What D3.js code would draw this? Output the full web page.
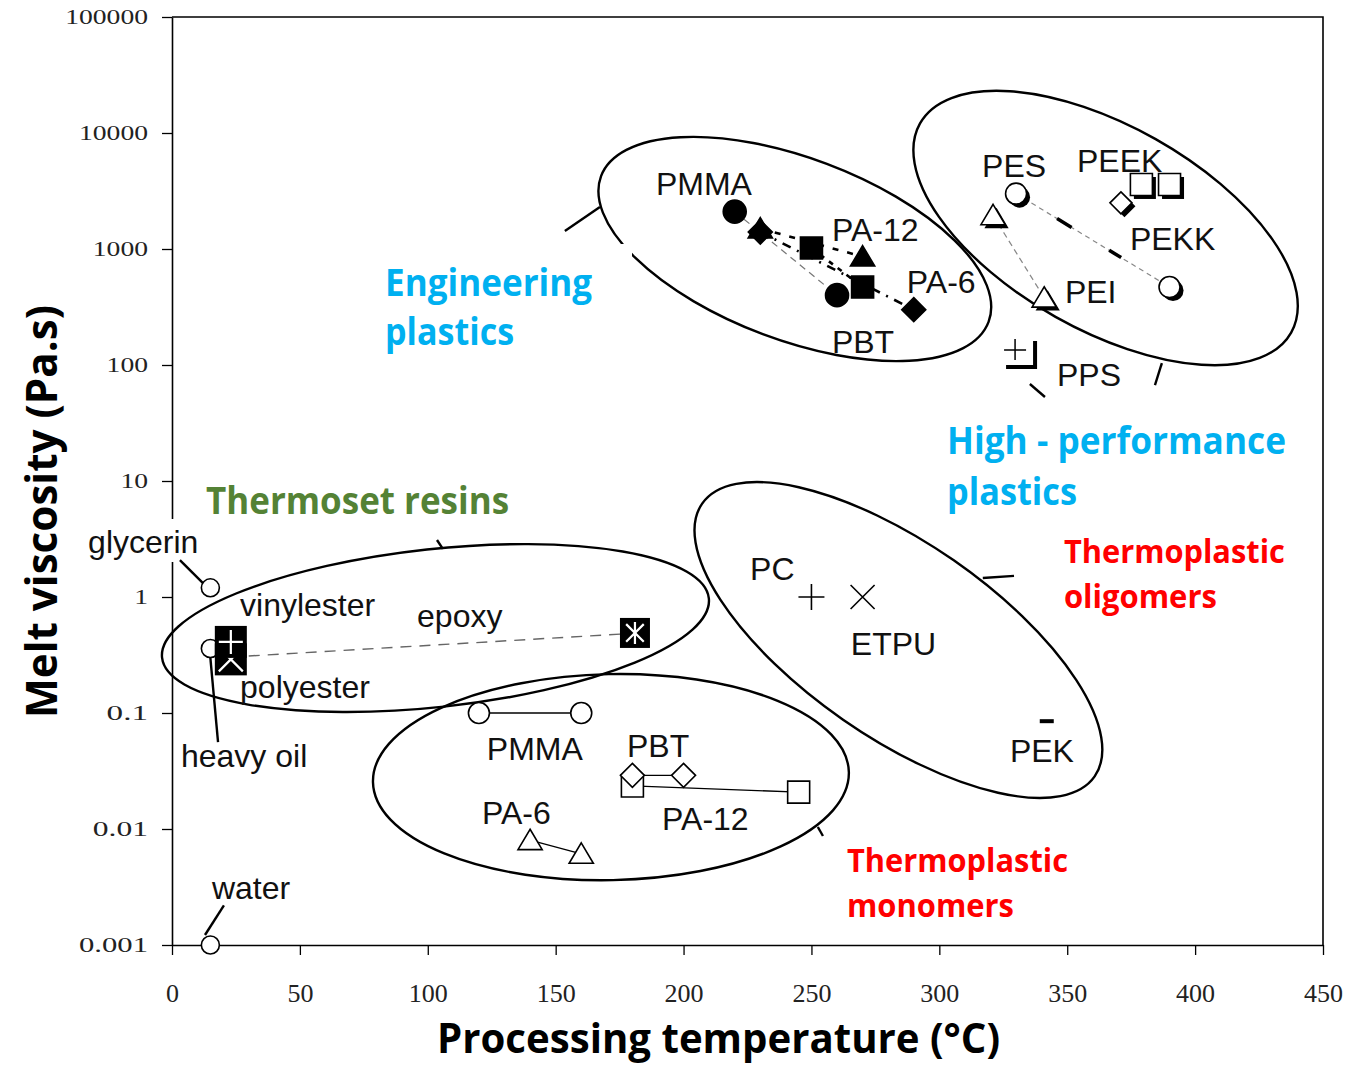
<!DOCTYPE html>
<html>
<head>
<meta charset="utf-8">
<script src="https://cdn.jsdelivr.net/npm/d3@7"></script>
<style>
body { margin: 0; background: #fff; }
</style>
</head>
<body>
<div id="chart"></div>
<script>
// ---- values read off the figure : [processing temperature (°C), melt viscosity (Pa.s)]
// engineering plastics (filled markers)
const engCircle   = [[220, 2100], [260, 400]];
const engTriangle = [[230, 1500], [270, 860]];
const engDiamond  = [[230, 1400], [290, 300]];
const engSquare   = [[250, 1020], [270, 470]];
// high-performance plastics (open markers with shadow)
const hpCircle   = [[330, 3000], [390, 470]];
const hpTriangle = [[321, 1950], [341, 380]];
const hpDiamond  = [[371, 2500]];
const hpSquare   = [[379, 3600], [390, 3600]];
const hpPlus     = [[330, 135]];
// thermoset resins and reference liquids
const liquids    = [[15, 1.2], [15, 0.36], [15, 0.001]];   // glycerin, heavy oil, water
const vinylester = [[23, 0.41]];
const polyester  = [[23, 0.29]];
const epoxy      = [[181, 0.49]];
const epoxyLine  = [[30, 0.31], [176, 0.48]];
// thermoplastic monomers (open markers)
const monCircle   = [[120, 0.1], [160, 0.1]];
const monDiamond  = [[180, 0.029], [200, 0.029]];
const monSquare   = [[180, 0.0235], [245, 0.0208]];
const monTriangle = [[140, 0.008], [160, 0.0061]];
// thermoplastic oligomers
const oliPlus  = [[250, 1]];
const oliCross = [[270, 1]];
const oliMinus = [[342, 0.085]];

// axis ticks
const xTicks = [0, 50, 100, 150, 200, 250, 300, 350, 400, 450];
const yTicks = [0.001, 0.01, 0.1, 1, 10, 100, 1000, 10000, 100000];
const yTickLabels = ['0.001', '0.01', '0.1', '1', '10', '100', '1000', '10000', '100000'];

// ---- annotations (anchored in data units)
const groupEllipses = [
  {T: 243.5, v: 1000,  a: 207, b: 91,  rot: 20.6},   // engineering
  {T: 365,   v: 1517,  a: 213, b: 102, rot: 29.4},   // high performance
  {T: 103,   v: 0.54,  a: 275, b: 79,  rot: -6.2},   // thermosets
  {T: 284,   v: 0.426, a: 239, b: 97,  rot: 34.8},   // oligomers
  {T: 171.6, v: 0.028, a: 238, b: 103, rot: -1.2}    // monomers
];
const leaderLines = [
  [[153.6, 1430], [167.3, 2300]],
  [[384.3, 67], [387.0, 104]],
  [[335.4, 68.6], [341.3, 53]],
  [[317, 1.46], [329.2, 1.52]],
  [[103.6, 3.1], [105.9, 2.6]],
  [[252.5, 0.0104], [254.5, 0.0087]],
  [[3.1, 2.08], [12.5, 1.29]],
  [[14.9, 0.316], [18, 0.056]],
  [[20.3, 0.0022], [12.9, 0.00122]]
];
const pointLabels = [
  ['PMMA', 189.2, 2925], ['PA-12', 258, 1172], ['PA-6', 287.3, 418], ['PBT', 258, 127],
  ['PES', 316.7, 4180], ['PEEK', 353.8, 4610], ['PEKK', 374.5, 979], ['PEI', 349.1, 342],
  ['PPS', 346, 65.9],
  ['glycerin', -32.8, 2.39], ['vinylester', 26.6, 0.685], ['epoxy', 95.8, 0.551],
  ['polyester', 26.6, 0.1346], ['heavy oil', 3.5, 0.0342], ['water', 15.6, 0.00249],
  ['PMMA', 123.1, 0.0394], ['PBT', 177.9, 0.0418], ['PA-6', 121.2, 0.01104], ['PA-12', 191.6, 0.0098],
  ['PC', 226, 1.40], ['ETPU', 265.4, 0.316], ['PEK', 327.6, 0.0379]
];
const groupLabels = [
  ['Engineering', 83.3, 393, '#00B0F0', 37, 207],
  ['plastics', 83.3, 149, '#00B0F0', 37, 129],
  ['High - performance', 303, 17.1, '#00B0F0', 37, 339],
  ['plastics', 303, 6.2, '#00B0F0', 37, 130],
  ['Thermoset resins', 13.3, 5.2, '#548235', 37, 303],
  ['Thermoplastic', 348.7, 1.96, '#FF0000', 32, 221],
  ['oligomers', 348.7, 0.80, '#FF0000', 32, 153],
  ['Thermoplastic', 263.9, 0.00426, '#FF0000', 32, 221],
  ['monomers', 263.9, 0.00174, '#FF0000', 32, 167]
];

const width = 1353, height = 1067;

const svg = d3.select('#chart')
              .append('svg')
              .attr('width', width)
              .attr('height', height);

const x = d3.scaleLinear().domain([0, 450]).range([172, 1323]);
const y = d3.scaleLog().domain([0.001, 100000]).range([945, 17]);

// axes
const xAxis = d3.axisBottom(x).tickValues(xTicks).tickSize(10).tickSizeOuter(0).tickPadding(29);
const yAxis = d3.axisLeft(y).tickValues(yTicks).tickSize(10).tickSizeOuter(0).tickPadding(14)
                .tickFormat((d, i) => yTickLabels[i]);

const xg = svg.append('g').attr('transform', 'translate(0,945)').call(xAxis);
const yg = svg.append('g').attr('transform', 'translate(172,0)').call(yAxis);

[xg, yg].forEach(g => {
  g.select('.domain').attr('stroke', '#000').attr('stroke-width', 1.6);
  g.selectAll('.tick line').attr('stroke', '#000').attr('stroke-width', 1.3);
});
xg.selectAll('.tick text')
  .style('font-family', '"Liberation Serif", serif')
  .style('font-size', '26px')
  .attr('fill', '#222');
yg.selectAll('.tick text')
  .style('font-family', '"Liberation Serif", serif')
  .style('font-size', '21px')
  .attr('fill', '#222')
  .attr('textLength', (d, i) => yTickLabels[i].length * 13.8)
  .attr('lengthAdjust', 'spacingAndGlyphs');

// frame top + right
svg.append('path')
   .attr('d', `M${x(0)},${y(100000)}H${x(450)}V${y(0.001)}`)
   .attr('fill', 'none').attr('stroke', '#000').attr('stroke-width', 1.6);

// axis titles
svg.append('text')
   .attr('x', 437).attr('y', 1053)
   .attr('textLength', 563).attr('lengthAdjust', 'spacingAndGlyphs')
   .style('font-family', '"Open Sans", sans-serif').style('font-weight', 700)
   .style('font-size', '41px')
   .text('Processing temperature (°C)');

svg.append('text')
   .attr('transform', 'translate(57,718) rotate(-90)')
   .attr('textLength', 413).attr('lengthAdjust', 'spacingAndGlyphs')
   .style('font-family', '"Open Sans", sans-serif').style('font-weight', 700)
   .style('font-size', '43px')
   .text('Melt viscosity (Pa.s)');

// group ellipses
svg.selectAll('.grp')
   .data(groupEllipses)
   .enter()
   .append('ellipse')
   .attr('class', 'grp')
   .attr('transform', d => `translate(${x(d.T)},${y(d.v)}) rotate(${d.rot})`)
   .attr('rx', d => d.a)
   .attr('ry', d => d.b)
   .attr('fill', 'none')
   .attr('stroke', '#000')
   .attr('stroke-width', 2.4);

// white text boxes that hide parts of the lines behind them
svg.append('rect').attr('x', 380).attr('y', 244).attr('width', 252).attr('height', 110).attr('fill', '#fff');
svg.append('rect').attr('x', 86).attr('y', 519).attr('width', 120).attr('height', 43).attr('fill', '#fff');

// leader lines
svg.selectAll('.leader')
   .data(leaderLines)
   .enter()
   .append('line')
   .attr('class', 'leader')
   .attr('x1', d => x(d[0][0])).attr('y1', d => y(d[0][1]))
   .attr('x2', d => x(d[1][0])).attr('y2', d => y(d[1][1]))
   .attr('stroke', '#000').attr('stroke-width', 2.4);

// connecting lines
const line = d3.line().x(d => x(d[0])).y(d => y(d[1]));
function link(data, color, w, dash) {
  svg.append('path')
     .attr('d', line(data))
     .attr('fill', 'none')
     .attr('stroke', color)
     .attr('stroke-width', w)
     .attr('stroke-dasharray', dash);
}
link(engCircle, '#777', 1.2, '7 5');
link(engTriangle, '#000', 2.6, '6 9');
link(engSquare, '#000', 2.6, '5 6');
link(engDiamond, '#000', 2.6, '9 7 2 7');
link(hpCircle, '#888', 1.2, '5 4');
link(hpCircle, '#000', 3.5, '0 48 17 44 14 400');
link(hpTriangle, '#888', 1.2, '6 4');
link(epoxyLine, '#666', 1.4, '11 8');
link(monCircle, '#000', 1.3, null);
link(monDiamond, '#000', 1.3, null);
link(monSquare, '#000', 1.3, null);
link(monTriangle, '#000', 1.3, null);

// marker shapes
function shapePath(kind, s) {
  if (kind === 'square') return `M${-s},${-s}H${s}V${s}H${-s}Z`;
  if (kind === 'diamond') return `M0,${-s}L${s},0L0,${s}L${-s},0Z`;
  if (kind === 'triangle') return `M0,${-s}L${s * 1.1},${s * 0.85}L${-s * 1.1},${s * 0.85}Z`;
  return null;
}
function markers(data, kind, s, style) {
  const g = svg.append('g');
  data.forEach(d => {
    const cx = x(d[0]), cy = y(d[1]);
    const layers = style === 'shadow' ? [['#000', 'none', 3.5], ['#fff', '#000', 0]] : [[style === 'filled' ? '#000' : '#fff', '#000', 0]];
    layers.forEach(([fill, stroke, off]) => {
      const el = kind === 'circle'
        ? g.append('circle').attr('cx', cx + off).attr('cy', cy + off).attr('r', s)
        : g.append('path').attr('transform', `translate(${cx + off},${cy + off})`).attr('d', shapePath(kind, s));
      el.attr('fill', fill).attr('stroke', off ? 'none' : stroke).attr('stroke-width', 1.6);
    });
  });
}

markers(engCircle, 'circle', 11.5, 'filled');
markers(engSquare, 'square', 11, 'filled');
markers(engTriangle, 'triangle', 11, 'filled');
markers(engDiamond, 'diamond', 12, 'filled');

markers(hpCircle, 'circle', 10.5, 'shadow');
markers(hpSquare, 'square', 11, 'shadow');
markers(hpTriangle, 'triangle', 11, 'shadow');
markers(hpDiamond, 'diamond', 11, 'shadow');

markers(liquids, 'circle', 9, 'open');

markers(monCircle, 'circle', 10.5, 'open');
markers(monSquare, 'square', 11, 'open');
markers(monDiamond, 'diamond', 12, 'open');
markers(monTriangle, 'triangle', 11, 'open');

// plus / cross / minus markers
hpPlus.forEach(d => {
  const cx = x(d[0]), cy = y(d[1]);
  svg.append('path').attr('d', `M${cx - 12},${cy}H${cx + 10}M${cx - 1},${cy - 11}V${cy + 10}`)
     .attr('stroke', '#000').attr('stroke-width', 1.5).attr('fill', 'none');
  svg.append('path').attr('d', `M${cx + 19},${cy - 9}V${cy + 17}H${cx - 10}`)
     .attr('stroke', '#000').attr('stroke-width', 4).attr('fill', 'none');
});
oliPlus.forEach(d => {
  const cx = x(d[0]), cy = y(d[1]);
  svg.append('path').attr('d', `M${cx - 13},${cy}H${cx + 13}M${cx},${cy - 13}V${cy + 13}`)
     .attr('stroke', '#000').attr('stroke-width', 1.6).attr('fill', 'none');
});
oliCross.forEach(d => {
  const cx = x(d[0]), cy = y(d[1]);
  svg.append('path').attr('d', `M${cx - 12},${cy - 12}L${cx + 12},${cy + 12}M${cx - 12},${cy + 12}L${cx + 12},${cy - 12}`)
     .attr('stroke', '#000').attr('stroke-width', 1.6).attr('fill', 'none');
});
oliMinus.forEach(d => {
  const cx = x(d[0]), cy = y(d[1]);
  svg.append('path').attr('d', `M${cx - 7},${cy}H${cx + 7}`)
     .attr('stroke', '#000').attr('stroke-width', 4);
});

// black thermoset squares with white symbols
function blackBox(d, s, symbol) {
  const cx = x(d[0]), cy = y(d[1]);
  svg.append('rect').attr('x', cx - s).attr('y', cy - s).attr('width', 2 * s).attr('height', 2 * s).attr('fill', '#000');
  svg.append('path').attr('d', symbol(cx, cy, s - 4))
     .attr('stroke', '#fff').attr('stroke-width', 2.2).attr('fill', 'none');
}
const xSym = (cx, cy, r) => `M${cx - r},${cy - r}L${cx + r},${cy + r}M${cx - r},${cy + r}L${cx + r},${cy - r}`;
const plusSym = (cx, cy, r) => `M${cx - r},${cy}H${cx + r}M${cx},${cy - r}V${cy + r}`;
const starSym = (cx, cy, r) => `M${cx},${cy - r}V${cy + r}` + xSym(cx, cy, r * 0.8);
polyester.forEach(d => blackBox(d, 16, xSym));
vinylester.forEach(d => blackBox(d, 16, plusSym));
epoxy.forEach(d => blackBox(d, 15, starSym));

// point labels
svg.selectAll('.plabel')
   .data(pointLabels)
   .enter()
   .append('text')
   .attr('class', 'plabel')
   .attr('x', d => x(d[1]))
   .attr('y', d => y(d[2]))
   .style('font-family', '"Liberation Sans", Arial, sans-serif')
   .style('font-size', '32px')
   .attr('fill', '#111')
   .text(d => d[0]);

// group labels
svg.selectAll('.glabel')
   .data(groupLabels)
   .enter()
   .append('text')
   .attr('class', 'glabel')
   .attr('x', d => x(d[1]))
   .attr('y', d => y(d[2]))
   .attr('fill', d => d[3])
   .attr('textLength', d => d[5])
   .attr('lengthAdjust', 'spacingAndGlyphs')
   .style('font-family', '"Open Sans", sans-serif')
   .style('font-weight', 700)
   .style('font-size', d => d[4] + 'px')
   .text(d => d[0]);
</script>
</body>
</html>
